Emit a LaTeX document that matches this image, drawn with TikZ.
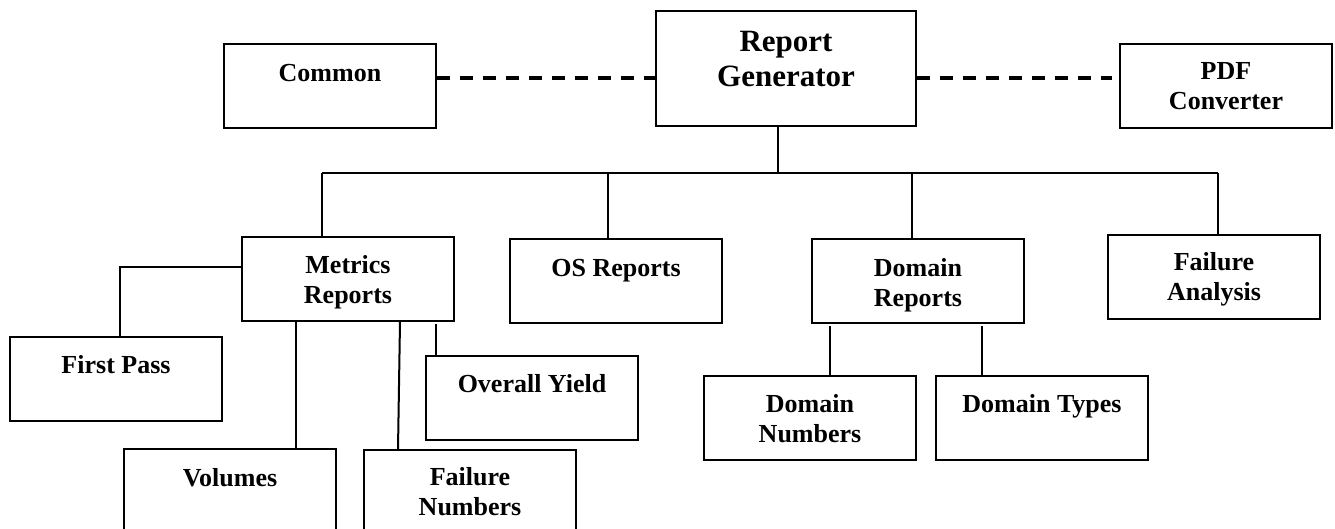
\documentclass[tikz,border=0pt]{standalone}
\usepackage{fontspec}
\setmainfont{Liberation Serif}
\newcommand{\btxt}[4]{\parbox[c][#2pt][t]{#1pt}{\centering\rule{0pt}{#3pt}#4}}
\tikzset{
  box/.style={draw, line width=1.5pt, inner sep=0pt, rectangle, font=\bfseries\fontsize{26}{30}\selectfont},
  conn/.style={line width=2pt},
  dashconn/.style={line width=3.5pt, dash pattern=on 13pt off 10pt},
}
\begin{document}
\begin{tikzpicture}[x=1pt,y=-1pt]
\useasboundingbox (0,0) rectangle (1335,529);
\clip (0,0) rectangle (1335,529);
% boxes
\node[box] (rg) at (786,68.5) {\fontsize{31}{35}\selectfont\btxt{260}{115}{41}{Report\\Generator}};
\node[box] (cm) at (330,86) {\btxt{212}{84}{38}{Common}};
\node[box] (pdf) at (1226,86) {\btxt{212}{84}{36}{PDF\\Converter}};
\node[box] (mr) at (348,279) {\btxt{212}{84}{36}{Metrics\\Reports}};
\node[box] (os) at (616,281) {\btxt{212}{84}{37}{OS Reports}};
\node[box] (dr) at (918,281) {\btxt{212}{84}{37}{Domain\\Reports}};
\node[box] (fa) at (1214,277) {\btxt{212}{84}{35}{Failure\\Analysis}};
\node[box] (fp) at (116,379) {\btxt{212}{84}{36}{First Pass}};
\node[box] (oy) at (532,398) {\btxt{212}{84}{36}{Overall Yield}};
\node[box] (vol) at (230,491) {\btxt{212}{84}{37}{Volumes}};
\node[box] (fn) at (470,492) {\btxt{212}{84}{35}{Failure\\Numbers}};
\node[box] (dn) at (810,418) {\btxt{212}{84}{36}{Domain\\Numbers}};
\node[box] (dt) at (1042,418) {\btxt{212}{84}{36}{Domain Types}};
% bus
\coordinate (busL) at (322,173);
\coordinate (busR) at (1218,173);
\draw[conn] (busL) -- (busR);
\draw[conn] ([xshift=-8pt]rg.south) -- ([xshift=-8pt]rg.south |- busL);
\draw[conn] (busL) -- (busL |- mr.north);
\draw[conn] ([xshift=-8pt]os.north |- busL) -- ([xshift=-8pt]os.north);
\draw[conn] ([xshift=-6pt]dr.north |- busL) -- ([xshift=-6pt]dr.north);
\draw[conn] (busR) -- (busR |- fa.north);
% dashed
\draw[dashconn] ([yshift=8pt]cm.east) -- ([yshift=8pt]cm.east -| rg.west);
\draw[dashconn] ([yshift=8pt]pdf.west -| rg.east) -- ([yshift=8pt,xshift=-7pt]pdf.west);
% metrics children
\draw[conn] ([yshift=12pt]mr.west) -| ([xshift=4pt]fp.north);
\draw[conn] ([xshift=-52pt]mr.south) -- ([xshift=-52pt]mr.south |- vol.north);
\draw[conn] ([xshift=52pt]mr.south) -- ([xshift=-72pt]fn.north);
\draw[conn] ([xshift=88pt,yshift=-2pt]mr.south) -- ([xshift=88pt]mr.south |- oy.north);
% domain children
\draw[conn] ([xshift=-88pt,yshift=-2pt]dr.south) -- ([xshift=-88pt]dr.south |- dn.north);
\draw[conn] ([xshift=64pt,yshift=-2pt]dr.south) -- ([xshift=64pt]dr.south |- dt.north);
\end{tikzpicture}
\end{document}
